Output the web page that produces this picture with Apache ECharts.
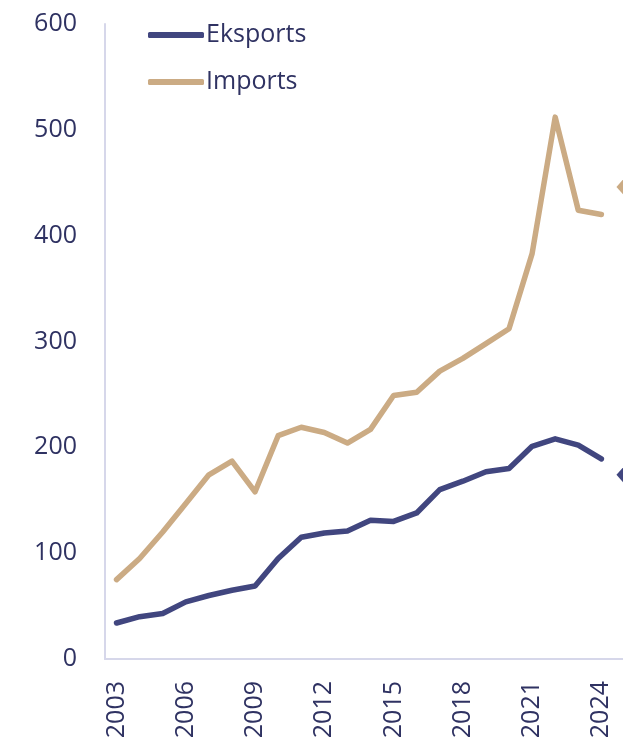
<!DOCTYPE html>
<html>
<head>
<meta charset="utf-8">
<script src="https://cdn.jsdelivr.net/npm/echarts@6/dist/echarts.min.js"></script>
<style>
  html, body { margin: 0; padding: 0; background: #fff; }
  #chart { width: 623px; height: 744px; }
</style>
</head>
<body>
<div id="chart"></div>
<script>
// years (2025 only carries the forecast diamonds)
const years = ['2003', '2004', '2005', '2006', '2007', '2008', '2009', '2010', '2011', '2012',
  '2013', '2014', '2015', '2016', '2017', '2018', '2019', '2020', '2021', '2022', '2023', '2024', '2025']

const exportsData = [34, 40, 43, 54, 60, 65, 69, 95, 115, 119, 121, 131, 130, 138, 160, 168, 177, 180, 201, 208, 202, 189, null]
const importsData = [75, 95, 120, 147, 174, 187, 158, 211, 219, 214, 204, 217, 249, 252, 272, 284, 298, 312, 383, 512, 424, 420, null]

// forecast points
const exportsForecast = [null, null, null, null, null, null, null, null, null, null, null, null, null, null, null, null, null, null, null, null, null, null, 174]
const importsForecast = [null, null, null, null, null, null, null, null, null, null, null, null, null, null, null, null, null, null, null, null, null, null, 446]

const yTicks = [0, 100, 200, 300, 400, 500, 600]

const navy = '#41467f'
const tan = '#cbab84'
const textColor = '#2f3262'
const axisColor = '#d6d7ea'
const font = '"Open Sans", "Noto Sans", sans-serif'

const chart = echarts.init(document.getElementById('chart'))
chart.setOption({
  animation: false,
  grid: { left: 105, right: -13, top: 24, bottom: 85, containLabel: false, outerBoundsMode: 'none' },
  legend: {
    data: ['Eksports', 'Imports'],
    orient: 'vertical',
    left: 143,
    top: 15,
    itemWidth: 56,
    itemHeight: 6,
    itemGap: 17,
    icon: 'roundRect',
    textStyle: { color: textColor, fontSize: 25, fontFamily: font, lineHeight: 30, padding: [0, 0, 0, -3] },
  },
  xAxis: {
    type: 'category',
    data: years,
    boundaryGap: true,
    axisLine: { lineStyle: { color: axisColor, width: 2 } },
    axisTick: { show: false },
    axisLabel: {
      interval: 2,
      rotate: 90,
      margin: 22,
      color: textColor,
      fontSize: 25,
      fontFamily: font,
    },
    splitLine: { show: false },
  },
  yAxis: {
    type: 'value',
    min: yTicks[0],
    max: yTicks[yTicks.length - 1],
    interval: 100,
    axisLine: { show: true, lineStyle: { color: axisColor, width: 2 } },
    axisTick: { show: false },
    axisLabel: { margin: 28, color: textColor, fontSize: 25, fontFamily: font },
    splitLine: { show: false },
  },
  series: [
    {
      name: 'Eksports',
      type: 'line',
      data: exportsData,
      symbol: 'none',
      color: navy,
      lineStyle: { width: 5.5, color: navy, cap: 'round', join: 'round' },
    },
    {
      name: 'Imports',
      type: 'line',
      data: importsData,
      symbol: 'none',
      color: tan,
      lineStyle: { width: 5.5, color: tan, cap: 'round', join: 'round' },
    },
    {
      name: 'Eksports prognoze',
      type: 'line',
      data: exportsForecast,
      symbol: 'diamond',
      symbolSize: [16, 18],
      showAllSymbol: true,
      lineStyle: { width: 0 },
      itemStyle: { color: navy },
    },
    {
      name: 'Imports prognoze',
      type: 'line',
      data: importsForecast,
      symbol: 'diamond',
      symbolSize: [16, 18],
      showAllSymbol: true,
      lineStyle: { width: 0 },
      itemStyle: { color: tan },
    },
  ],
})
</script>
</body>
</html>
